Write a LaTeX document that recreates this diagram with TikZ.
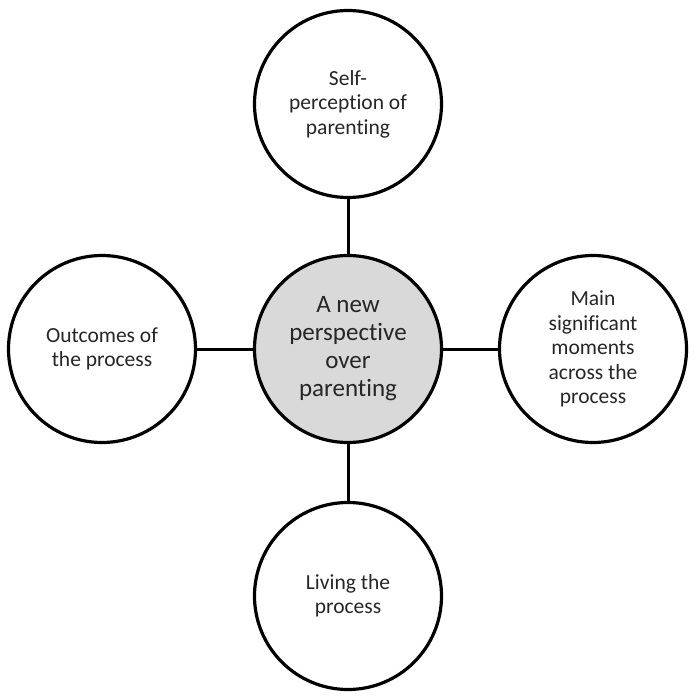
\documentclass[tikz,border=0pt]{standalone}
\usepackage{fontspec}
\setmainfont{Carlito}[Ligatures=NoCommon]
\definecolor{txt}{HTML}{262626}
\definecolor{hub}{HTML}{D9D9D9}
\begin{document}
\begin{tikzpicture}[x=1pt,y=1pt,
  bubble/.style={circle,draw=black,line width=3.2pt,fill=white,minimum size=187pt,inner sep=0pt,
    align=center,text=txt,font=\fontsize{21.5}{24.5}\selectfont},
  hubnode/.style={bubble,fill=hub,font=\fontsize{25}{28}\selectfont},
  link/.style={line width=3pt,draw=black}]
\useasboundingbox (0,0) rectangle (698,697);
\node[hubnode] (c) at (348,348) {A new\\perspective\\over\\parenting};
\node[bubble] (t) at (348,593) {Self-\\perception of\\parenting};
\node[bubble] (l) at (102,348) {Outcomes of\\the process};
\node[bubble] (r) at (593,348) {Main\\significant\\moments\\across the\\process};
\node[bubble] (b) at (348,101) {Living the\\process};
\draw[link] (c) -- (t);
\draw[link] (c) -- (l);
\draw[link] (c) -- (r);
\draw[link] (c) -- (b);
\end{tikzpicture}
\end{document}
